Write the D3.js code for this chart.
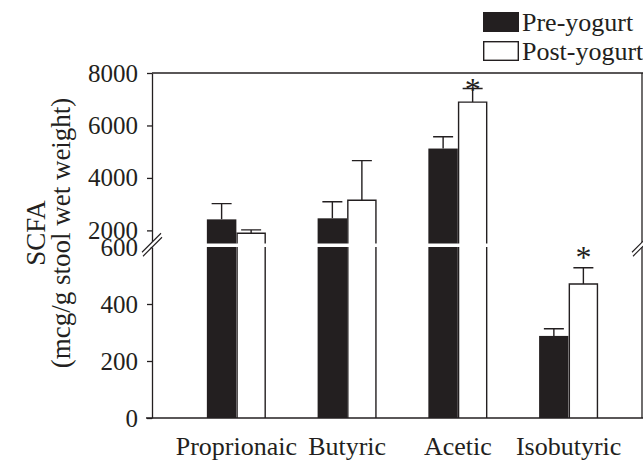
<!DOCTYPE html>
<html>
<head>
<meta charset="utf-8">
<script src="https://cdn.jsdelivr.net/npm/d3@7"></script>
<style>
  body { margin: 0; background: #fff; }
  svg { display: block; font-family: "Liberation Serif", "Times New Roman", serif; }
  svg text { font-family: "Liberation Serif", "Times New Roman", serif !important; }
</style>
</head>
<body>
<svg id="viz" width="643" height="460"></svg>
<script>
// values
const categories = ["Proprionaic", "Butyric", "Acetic", "Isobutyric"];
const series = ["Pre-yogurt", "Post-yogurt"];
const preMean = [2420, 2460, 5120, 288];
const preErr = [600, 630, 450, 25];
const postMean = [1890, 3150, 6890, 470];
const postErr = [130, 1510, 520, 57];
const significant = ["Acetic|Post-yogurt", "Isobutyric|Post-yogurt"];
const upperTicks = [2000, 4000, 6000, 8000];
const lowerTicks = [0, 200, 400, 600];

const ink = "#231f20";
const svg = d3.select("#viz");
const W = 643, H = 460;
const left = 152, right = 642;

svg.append("rect").attr("width", W).attr("height", H).attr("fill", "#fff");

// x: groups, then pre/post within a group
const x = d3.scaleBand().domain(categories).range([181, 624]).paddingInner(0.467).paddingOuter(0.2335);
const xs = d3.scaleBand().domain(series).range([0, x.bandwidth()]);

// broken y axis: two linear scales
const yLow = d3.scaleLinear().domain([0, 600]).range([418, 247]);
const yHigh = d3.scaleLinear().domain([1500, 8000]).range([243.5, 73]);
const lowMax = yLow.domain()[1];

const data = [];
categories.forEach((c, i) => {
  data.push({ cat: c, s: series[0], v: preMean[i], e: preErr[i] });
  data.push({ cat: c, s: series[1], v: postMean[i], e: postErr[i] });
});

// split each bar into its lower/upper panel pieces
const pieces = [];
data.forEach((d) => {
  const x0 = x(d.cat) + xs(d.s), x1 = x0 + xs.bandwidth();
  if (d.v > lowMax) {
    pieces.push({ d, x0, x1, yb: yLow(0), yt: yLow(lowMax), openTop: true });
    pieces.push({ d, x0, x1, yb: yHigh(yHigh.domain()[0]), yt: yHigh(d.v), openTop: false });
  } else {
    pieces.push({ d, x0, x1, yb: yLow(0), yt: yLow(d.v), openTop: false });
  }
});

const gBars = svg.append("g");
gBars.selectAll("rect")
  .data(pieces)
  .join("rect")
  .attr("x", (p) => p.x0)
  .attr("y", (p) => p.yt)
  .attr("width", (p) => p.x1 - p.x0)
  .attr("height", (p) => p.yb - p.yt)
  .attr("fill", (p) => (p.d.s === series[0] ? ink : "#fff"));

// outlines for the open (white) bars, no edge at the break
gBars.selectAll("path")
  .data(pieces.filter((p) => p.d.s === series[1]))
  .join("path")
  .attr("fill", "none")
  .attr("stroke", ink)
  .attr("stroke-width", 1.4)
  .attr("d", (p) => {
    const a = p.x0 + 0.7, b = p.x1 - 0.7;
    if (p.openTop) return `M${a},${p.yb}V${p.yt}M${b},${p.yb}V${p.yt}`;
    return `M${a},${p.yb}V${p.yt}H${b}V${p.yb}`;
  });

// error bars
const yOf = (v) => (v > lowMax ? yHigh(v) : yLow(v));
const cx = (d) => x(d.cat) + xs(d.s) + xs.bandwidth() / 2;
const gErr = svg.append("g").attr("stroke", ink).attr("stroke-width", 1.4).attr("fill", "none");
gErr.selectAll("path")
  .data(data)
  .join("path")
  .attr("d", (d) => {
    const c = cx(d), t = yOf(d.v + d.e), b = yOf(d.v);
    return `M${c},${b}V${t}M${c - 10},${t}H${c + 10}`;
  });

// significance stars (kept inside the frame)
svg.append("g").selectAll("text")
  .data(data.filter((d) => significant.includes(d.cat + "|" + d.s)))
  .join("text")
  .attr("x", cx)
  .attr("y", (d) => Math.max(yOf(d.v + d.e) - 15, 85) + 15)
  .attr("text-anchor", "middle")
  .attr("font-size", 32)
  .attr("fill", ink)
  .text("*");

// axes
const axisStyle = (g) => {
  g.attr("font-size", 25);
  g.selectAll("path.domain").attr("stroke", ink).attr("stroke-width", 1.3);
  g.selectAll(".tick line").attr("stroke", ink).attr("stroke-width", 1.3);
  g.selectAll(".tick text").attr("fill", ink);
};
svg.append("g")
  .attr("transform", `translate(${left},0)`)
  .call(d3.axisLeft(yHigh).tickValues(upperTicks).tickFormat(d3.format("d")).tickSize(5).tickSizeOuter(0).tickPadding(9))
  .call(axisStyle);
svg.append("g")
  .attr("transform", `translate(${left},0)`)
  .call(d3.axisLeft(yLow).tickValues(lowerTicks).tickFormat(d3.format("d")).tickSize(5).tickSizeOuter(0).tickPadding(9))
  .call(axisStyle);

// frame: top, bottom, right
const frame = svg.append("g").attr("stroke", ink).attr("stroke-width", 1.3);
frame.append("line").attr("x1", left).attr("x2", W).attr("y1", yHigh(8000)).attr("y2", yHigh(8000));
frame.append("line").attr("x1", left - 6).attr("x2", W).attr("y1", yLow(0)).attr("y2", yLow(0));
frame.append("line").attr("x1", right).attr("x2", right).attr("y1", yHigh(8000)).attr("y2", yHigh(1500));
frame.append("line").attr("x1", right).attr("x2", right).attr("y1", yLow(600)).attr("y2", yLow(0));

// break marks
const breakY = (yHigh(1500) + yLow(600)) / 2;
[left, right].forEach((bx) => {
  const g = svg.append("g").attr("transform", `translate(${bx},${breakY})`);
  g.append("path").attr("d", "M-10,9L8,-9L8,-5L-10,13Z").attr("fill", "#fff").attr("transform", "translate(0,-2)");
  g.append("path")
    .attr("d", "M-10,7L9,-12M-9,11L10,-8")
    .attr("stroke", ink).attr("stroke-width", 1.1).attr("fill", "none");
});

// category labels
svg.append("g").selectAll("text")
  .data(categories)
  .join("text")
  .attr("x", (c) => x(c) + x.bandwidth() / 2)
  .attr("y", 455)
  .attr("text-anchor", "middle")
  .attr("font-size", 26)
  .attr("fill", ink)
  .text((c) => c);

// y title
const title = svg.append("g").attr("fill", ink).attr("font-size", 27).attr("text-anchor", "middle");
title.append("text").attr("transform", "translate(45,233) rotate(-90)").text("SCFA");
title.append("text").attr("transform", "translate(70,233) rotate(-90)").text("(mcg/g stool wet weight)");

// legend
const legend = svg.append("g").attr("transform", "translate(483,12)");
const li = legend.selectAll("g").data(series).join("g").attr("transform", (_, i) => `translate(0,${i * 29})`);
li.append("rect")
  .attr("x", (_, i) => (i ? 0.7 : 0))
  .attr("y", (_, i) => (i ? 0.7 : 0))
  .attr("width", (_, i) => (i ? 34.6 : 36))
  .attr("height", (_, i) => (i ? 18.6 : 20))
  .attr("fill", (_, i) => (i ? "#fff" : ink))
  .attr("stroke", (_, i) => (i ? ink : "none"))
  .attr("stroke-width", 1.4);
li.append("text")
  .attr("x", 39)
  .attr("y", 19)
  .attr("font-size", 26)
  .attr("fill", ink)
  .text((s) => s);
</script>
</body>
</html>
